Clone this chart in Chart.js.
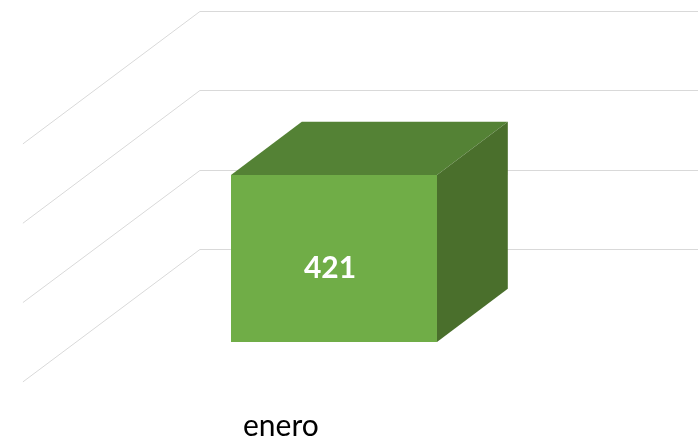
<!DOCTYPE html>
<html>
<head>
<meta charset="utf-8">
<script src="https://cdn.jsdelivr.net/npm/chart.js@4/dist/chart.umd.min.js"></script>
<style>
    html, body { margin: 0; padding: 0; background: #fff; }
    #wrap { width: 698px; height: 438px; }
</style>
</head>
<body>
<div id="wrap"><canvas id="chart"></canvas></div>
<script>
// chart data
const categories = ['enero'];
const values = [421];
const yTicks = [0, 200, 400, 600];

// fake 3D: floor depth (front edge -> back wall) and where the bar sits in it
const DEPTH_X = 177;
const DEPTH_Y = 133;
const BAR_FRONT = 0.3;   // bar front face, as a fraction of the floor depth
const BAR_DEPTH = 0.4;   // bar thickness, same units

const perspective = {
    id: 'perspective',
    beforeDatasetsDraw(chart) {
        const { ctx, chartArea, scales } = chart;
        const y = scales.y;
        const fx = BAR_FRONT * DEPTH_X, fy = BAR_FRONT * DEPTH_Y;
        ctx.save();
        ctx.strokeStyle = '#d9d9d9';
        ctx.lineWidth = 1;
        yTicks.forEach(v => {
            const py = y.getPixelForValue(v);
            const x0 = chartArea.left - fx, y0 = py + fy;
            const x1 = x0 + DEPTH_X, y1 = y0 - DEPTH_Y;
            ctx.beginPath();
            ctx.moveTo(x0, y0);
            ctx.lineTo(x1, Math.round(y1) + 0.5);
            ctx.lineTo(chart.width, Math.round(y1) + 0.5);
            ctx.stroke();
        });
        // category labels sit on the front edge of the floor
        const x = scales.x;
        ctx.fillStyle = '#000';
        ctx.font = '30px Lato';
        ctx.textAlign = 'center';
        ctx.textBaseline = 'middle';
        categories.forEach((c, i) => {
            ctx.fillText(c, x.getPixelForValue(i) - fx, y.getPixelForValue(0) + 84);
        });
        ctx.restore();
    },
    afterDatasetsDraw(chart) {
        const { ctx } = chart;
        const dx = BAR_DEPTH * DEPTH_X, dy = BAR_DEPTH * DEPTH_Y;
        const meta = chart.getDatasetMeta(0);
        meta.data.forEach((bar, i) => {
            const { x, y, base, width } = bar.getProps(['x', 'y', 'base', 'width'], true);
            const l = x - width / 2, r = x + width / 2;
            ctx.save();
            // top face
            ctx.fillStyle = '#548235';
            ctx.beginPath();
            ctx.moveTo(l, y);
            ctx.lineTo(l + dx, y - dy);
            ctx.lineTo(r + dx, y - dy);
            ctx.lineTo(r, y);
            ctx.closePath();
            ctx.fill();
            // side face
            ctx.fillStyle = '#4a6f2c';
            ctx.beginPath();
            ctx.moveTo(r, y);
            ctx.lineTo(r + dx, y - dy);
            ctx.lineTo(r + dx, base - dy);
            ctx.lineTo(r, base);
            ctx.closePath();
            ctx.fill();
            // value label
            ctx.fillStyle = '#ffffff';
            ctx.font = 'bold 30px Lato';
            ctx.textAlign = 'center';
            ctx.textBaseline = 'middle';
            ctx.fillText(String(values[i]), x - 4, (y + base) / 2 + 10);
            ctx.restore();
        });
    }
};

new Chart(document.getElementById('chart'), {
    type: 'bar',
    data: {
        labels: categories,
        datasets: [{
            data: values,
            backgroundColor: '#70ad47',
            borderWidth: 0,
            barPercentage: 1,
            categoryPercentage: 0.3992
        }]
    },
    options: {
        responsive: true,
        maintainAspectRatio: false,
        animation: false,
        layout: { padding: { left: 76, right: 106, top: 104, bottom: 96 } },
        plugins: { legend: { display: false }, tooltip: { enabled: false } },
        scales: {
            x: { display: false },
            y: {
                display: false,
                min: 0,
                max: 600,
                afterBuildTicks(scale) {
                    scale.ticks = yTicks.map(v => ({ value: v }));
                }
            }
        }
    },
    plugins: [perspective]
});
</script>
</body>
</html>
